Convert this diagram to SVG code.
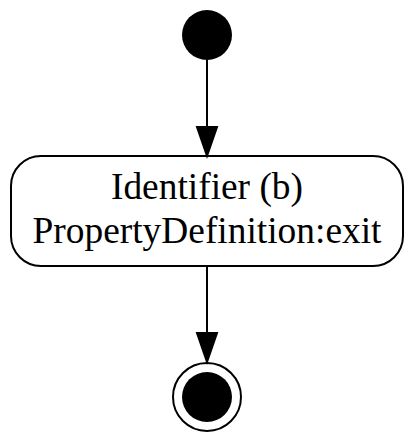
<svg xmlns="http://www.w3.org/2000/svg" width="414" height="442" viewBox="0 0 414 442">
<style>
.edge{stroke:#000;stroke-width:2;fill:none}
.head{fill:#000;stroke:#000;stroke-width:2}
.lbl{font-family:"Liberation Serif",serif;font-size:37.4px;fill:#000;text-anchor:middle}
</style>
<rect width="414" height="442" fill="#fff"/>
<g id="start"><circle cx="207" cy="35" r="25" fill="#000"/></g>
<g id="state"><rect x="11" y="156" width="392" height="110" rx="30" ry="30" fill="#fff" stroke="#000" stroke-width="2"/>
<text class="lbl" x="207" y="199">Identifier (b)</text>
<text class="lbl" x="207" y="243">PropertyDefinition:exit</text></g>
<g id="end"><circle cx="207" cy="397" r="34" fill="#fff" stroke="#000" stroke-width="2"/><circle cx="207" cy="397" r="25" fill="#000"/></g>
<g id="connectors">
<path class="edge" d="M207 60V127"/><path class="head" d="M197 127L217 127L207 156Z"/>
<path class="edge" d="M207 266V333"/><path class="head" d="M197 333L217 333L207 362Z"/>
</g>
</svg>
